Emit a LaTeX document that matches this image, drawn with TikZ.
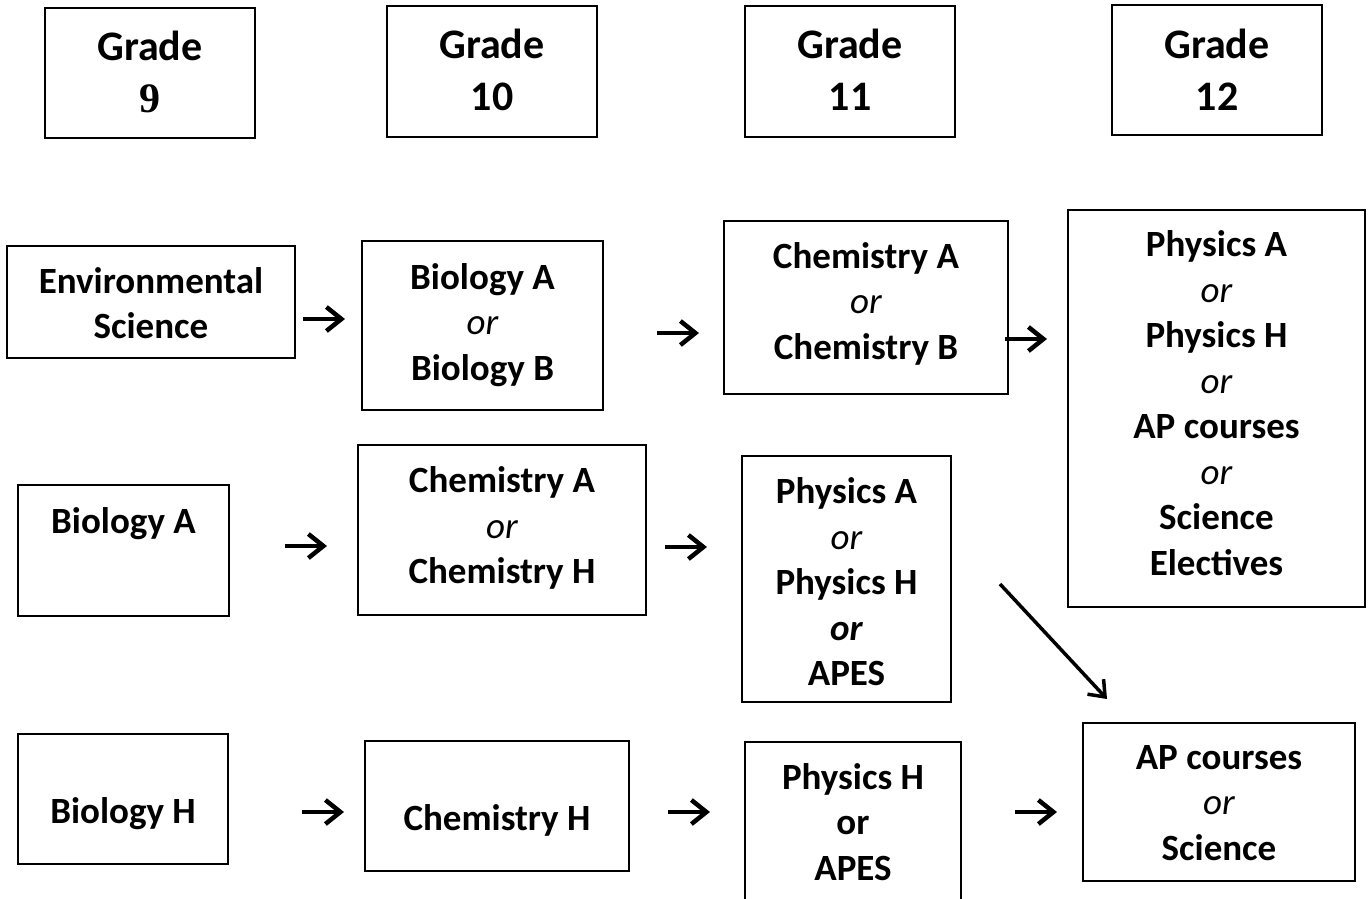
\documentclass[tikz,border=0pt]{standalone}
\usepackage{fontspec}
\setmainfont{Carlito}
\newfontfamily\tnr{Liberation Serif}
\usetikzlibrary{arrows.meta}
\newcommand{\orit}{{\mdseries\itshape or}}
\begin{document}
\begin{tikzpicture}[x=1pt,y=-1pt,
  box/.style={draw, line width=2pt, inner sep=0pt},
  txt/.style={font=\fontsize{37}{45.5}\selectfont\bfseries, align=center, inner sep=0pt},
  gtxt/.style={font=\fontsize{42}{52}\selectfont\bfseries, align=center, inner sep=0pt},
  arr/.style={line width=4.5pt, -{Straight Barb[length=15pt,width=24pt]}},
  darr/.style={line width=3.5pt, -{Straight Barb[length=14pt,width=22pt]}}
]
\useasboundingbox (0,0) rectangle (1371,898);
\clip (0,0) rectangle (1371,898);

% grade headers
\node[box, minimum width=210pt, minimum height=130pt, label={[gtxt,yshift=1.5pt]center:{Grade\\{\tnr 9}}}] (g9) at (150,73) {};
\node[box, minimum width=210pt, minimum height=131pt, label={[gtxt,yshift=1.5pt]center:{Grade\\10}}] (g10) at (492,71.5) {};
\node[box, minimum width=210pt, minimum height=131pt, label={[gtxt,yshift=1.5pt]center:{Grade\\11}}] (g11) at (850,71.5) {};
\node[box, minimum width=210pt, minimum height=130pt, label={[gtxt]center:{Grade\\12}}] (g12) at (1217,70) {};

% row 1
\node[box, minimum width=288pt, minimum height=112pt, label={[txt,yshift=-1pt]center:{Environmental\\Science}}] (env) at (151,302) {};
\node[box, minimum width=241pt, minimum height=169pt, label={[txt,yshift=0.5pt]center:{Biology A\\\orit\\Biology B}}] (bioab) at (482.5,325.5) {};
\node[box, minimum width=284pt, minimum height=173pt, label={[txt,yshift=4pt]center:{Chemistry A\\\orit\\Chemistry B}}] (chemab) at (866,307.5) {};
\node[box, minimum width=297pt, minimum height=397pt, label={[txt,yshift=5.5pt]center:{Physics A\\\orit\\Physics H\\\orit\\AP courses\\\orit\\Science\\Electives}}] (phys12) at (1216.5,408.5) {};

% row 2
\node[box, minimum width=211pt, minimum height=131pt, label={[txt,yshift=26.5pt]center:{Biology A}}] (bioa) at (123.5,550.5) {};
\node[box, minimum width=288pt, minimum height=170pt, label={[txt,yshift=2pt]center:{Chemistry A\\\orit\\Chemistry H}}] (chemah) at (502,530) {};
\node[box, minimum width=209pt, minimum height=246pt, label={[txt,yshift=-3pt]center:{Physics A\\\orit\\Physics H\\{\itshape or}\\APES}}] (physaha) at (846.5,579) {};

% row 3
\node[box, minimum width=210pt, minimum height=130pt, label={[txt,yshift=-15pt]center:{Biology H}}] (bioh) at (123,799) {};
\node[box, minimum width=264pt, minimum height=130pt, label={[txt,yshift=-14pt]center:{Chemistry H}}] (chemh) at (497,806) {};
\node[box, minimum width=216pt, minimum height=198pt, label={[txt,yshift=19pt]center:{Physics H\\or\\APES}}] (physha) at (853,841) {};
\node[box, minimum width=272pt, minimum height=158pt, label={[txt,yshift=-1pt]center:{AP courses\\\orit\\Science}}] (ap) at (1219,802) {};

% arrow end points
\coordinate (a1s) at (303,319);  \coordinate (a1e) at (345,319);
\coordinate (a2s) at (657,333);  \coordinate (a2e) at (699,333);
\coordinate (a3s) at (1005,339); \coordinate (a3e) at (1047,339);
\coordinate (a4s) at (285,546);  \coordinate (a4e) at (327,546);
\coordinate (a5s) at (665,547);  \coordinate (a5e) at (707,547);
\coordinate (a6s) at (1000,584); \coordinate (a6e) at (1107,699);
\coordinate (a7s) at (302,812);  \coordinate (a7e) at (344,812);
\coordinate (a8s) at (668,812);  \coordinate (a8e) at (710,812);
\coordinate (a9s) at (1015,812); \coordinate (a9e) at (1057,812);

\draw[arr] (a1s) -- (a1e);
\draw[arr] (a2s) -- (a2e);
\draw[arr] (a3s) -- (a3e);
\draw[arr] (a4s) -- (a4e);
\draw[arr] (a5s) -- (a5e);
\draw[darr] (a6s) -- (a6e);
\draw[arr] (a7s) -- (a7e);
\draw[arr] (a8s) -- (a8e);
\draw[arr] (a9s) -- (a9e);
\end{tikzpicture}
\end{document}
